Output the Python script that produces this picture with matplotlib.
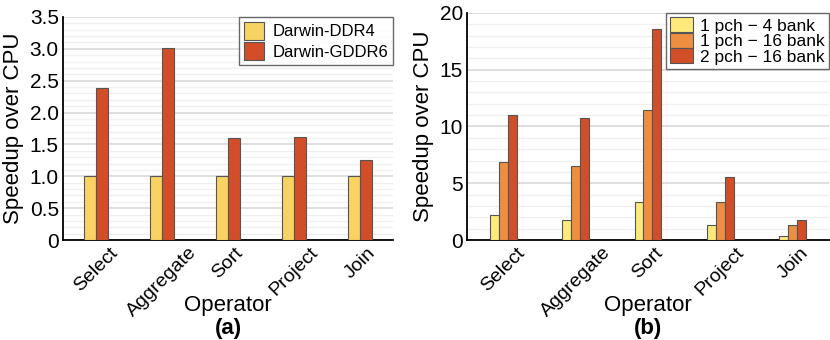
import numpy as np
import matplotlib
matplotlib.use("Agg")
import matplotlib.pyplot as plt
from matplotlib.ticker import MultipleLocator

plt.rcParams['font.family'] = ['Liberation Sans', 'DejaVu Sans']

operators = ["Select", "Aggregate", "Sort", "Project", "Join"]

# (a) Darwin memory types
ddr4 = [1.0, 1.0, 1.0, 1.0, 1.0]
gddr6 = [2.39, 3.01, 1.60, 1.62, 1.25]

# (b) pseudo-channel / bank configurations
pch1_bank4 = [2.17, 1.76, 3.32, 1.29, 0.38]
pch1_bank16 = [6.84, 6.52, 11.45, 3.32, 1.29]
pch2_bank16 = [11.04, 10.78, 18.56, 5.52, 1.76]

fig = plt.figure(figsize=(8.3, 3.4), dpi=100)
ax1 = fig.add_axes([0.0759, 0.294, 0.3976, 0.656])
ax2 = fig.add_axes([0.5627, 0.294, 0.436, 0.668])

edge = "#555555"


def style_axis(ax, ymax, major, minor, letter, xlab_y, letter_y):
    ax.set_xlim(-0.5, 4.5)
    ax.set_ylim(0, ymax)
    ax.yaxis.set_major_locator(MultipleLocator(major))
    ax.yaxis.set_minor_locator(MultipleLocator(minor))
    ax.grid(axis="y", which="major", color="#dcdcdc", linewidth=1.3, zorder=0)
    ax.grid(axis="y", which="minor", color="#f0f0f0", linewidth=1.0, zorder=0)
    ax.set_axisbelow(True)
    for s in ["top", "right"]:
        ax.spines[s].set_visible(False)
    ax.spines["left"].set_linewidth(1.3)
    ax.spines["bottom"].set_linewidth(1.3)
    ax.tick_params(axis="both", which="both", length=0, labelsize=15, pad=3)
    ax.set_xticks(range(len(operators)))
    ax.set_xticklabels(operators, rotation=45, ha="center", fontsize=14)
    ax.set_ylabel("Speedup over CPU", fontsize=16, labelpad=4)
    ax.set_xlabel("Operator", fontsize=16)
    ax.xaxis.set_label_coords(0.5, xlab_y)
    ax.text(0.5, letter_y, letter, transform=ax.transAxes, ha="center",
            va="center", fontsize=16, fontweight="bold")


x = np.arange(len(operators))

w1 = 0.175
ax1.bar(x - w1 / 2, ddr4, w1, color="#F8D262", edgecolor=edge, linewidth=0.8,
        label="Darwin-DDR4", zorder=3)
ax1.bar(x + w1 / 2, gddr6, w1, color="#D24E28", edgecolor=edge, linewidth=0.8,
        label="Darwin-GDDR6", zorder=3)
style_axis(ax1, 3.5, 0.5, 0.1, "(a)", -0.245, -0.395)
ax1.set_yticks(np.arange(0, 3.51, 0.5))
ax1.set_yticklabels(["0", "0.5", "1.0", "1.5", "2.0", "2.5", "3.0", "3.5"])
leg1 = ax1.legend(loc="upper right", fontsize=12, frameon=True, fancybox=False,
                  handlelength=1.2, handleheight=1.25, handletextpad=0.5,
                  labelspacing=0.15, borderpad=0.3, borderaxespad=0.0)
leg1.get_frame().set_edgecolor("#444444")
leg1.get_frame().set_linewidth(1.0)

w2 = 0.124
ax2.bar(x - w2, pch1_bank4, w2, color="#FDEA7B", edgecolor=edge, linewidth=0.8,
        label="1 pch \u2212 4 bank", zorder=3)
ax2.bar(x, pch1_bank16, w2, color="#EE8E40", edgecolor=edge, linewidth=0.8,
        label="1 pch \u2212 16 bank", zorder=3)
ax2.bar(x + w2, pch2_bank16, w2, color="#D24E28", edgecolor=edge, linewidth=0.8,
        label="2 pch \u2212 16 bank", zorder=3)
style_axis(ax2, 20, 5, 1, "(b)", -0.24, -0.388)
leg2 = ax2.legend(loc="upper right", fontsize=12.5, frameon=True, fancybox=False,
                  handlelength=1.3, handleheight=0.95, handletextpad=0.4,
                  labelspacing=-0.05, borderpad=0.25, borderaxespad=0.0)
leg2.get_frame().set_edgecolor("#444444")
leg2.get_frame().set_linewidth(1.0)

fig.savefig("out.png", dpi=100)
